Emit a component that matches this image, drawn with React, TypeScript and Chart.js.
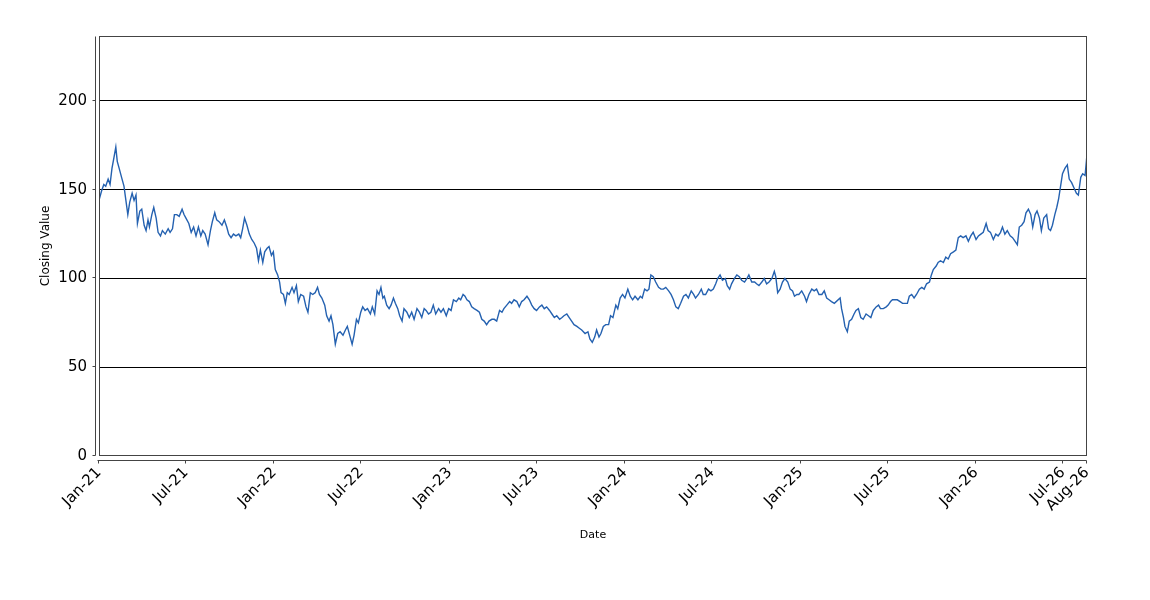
import React, { useEffect, useRef } from 'react';
import { Chart, registerables } from 'chart.js';

Chart.register(...registerables);

// days since 2021-01-01
const dayOffsets = [
  0, 5, 10, 14, 19, 23, 27, 31, 35, 38, 42, 48, 52, 55, 60, 64, 69, 73, 77, 80,
  85, 89, 94, 98, 102, 105, 110, 114, 119, 123, 128, 132, 138, 144, 148, 153, 157, 162, 167, 173,
  177, 181, 187, 192, 197, 202, 207, 212, 216, 221, 227, 232, 236, 241, 245, 250, 256, 261, 266, 270,
  275, 280, 285, 291, 295, 299, 303, 308, 313, 318, 323, 328, 332, 336, 341, 345, 350, 354, 359, 363,
  367, 372, 376, 379, 384, 388, 392, 396, 402, 406, 411, 415, 420, 426, 431, 435, 440, 445, 450, 455,
  459, 464, 470, 474, 479, 483, 487, 492, 497,
  502, 508, 513, 517, 523, 527, 531, 536, 540, 545, 549, 554, 559, 565, 569, 574, 579, 583, 587, 591,
  594, 599, 604, 608, 613, 617, 622, 626, 631, 635, 641, 646, 651, 656, 662, 667, 672, 677, 681, 686,
  691, 696, 701, 707, 712, 717, 723, 728, 733, 738, 744, 749, 753, 758, 762, 766, 771, 776, 781, 787,
  792, 797, 802, 807, 812, 818, 823, 828, 834, 839, 843, 849, 855, 859, 864, 870, 875, 880, 885, 891,
  896, 901, 906, 911, 917, 922, 927, 932, 938, 943, 948, 953, 959, 964, 968, 974, 979, 984, 989, 995,
  1000, 1005,
  1012, 1018, 1022, 1027, 1032, 1036, 1041, 1045, 1050, 1055, 1061, 1065, 1070, 1076, 1080, 1085, 1090, 1095, 1101, 1106,
  1111, 1116, 1122, 1127, 1131, 1136, 1141, 1145, 1149, 1154, 1159, 1165, 1170, 1175, 1180, 1186, 1191, 1196, 1201, 1206,
  1211, 1217, 1222, 1227, 1233, 1238, 1242, 1248, 1254, 1258, 1263, 1269, 1274, 1279, 1284, 1288, 1293, 1298, 1304, 1308,
  1313, 1317, 1323, 1328, 1333, 1338, 1344, 1349, 1353, 1359, 1365, 1369, 1374, 1380, 1385, 1390, 1395, 1401, 1406, 1409,
  1413, 1418, 1423, 1428, 1434, 1439, 1444, 1448, 1453, 1457, 1463, 1469, 1473, 1478, 1484, 1489, 1494, 1499, 1505, 1510,
  1515, 1520, 1525, 1531,
  1543, 1546, 1550, 1553, 1558, 1562, 1567, 1572, 1576, 1581, 1586, 1591, 1597, 1602, 1607, 1612, 1618, 1623, 1627, 1633,
  1639, 1643, 1648, 1652, 1657, 1662, 1668, 1673, 1678, 1683, 1687, 1692, 1697, 1702, 1708, 1713, 1718, 1723, 1729, 1733,
  1737, 1743, 1747, 1752, 1758, 1763, 1768, 1773, 1779, 1784, 1789, 1794, 1799, 1805, 1810, 1815, 1820, 1826, 1831, 1836,
  1841, 1847, 1851, 1856, 1862, 1867, 1872, 1877, 1881, 1886, 1891, 1897, 1902, 1907, 1912, 1916, 1921, 1926, 1930, 1935,
  1940, 1944, 1949, 1953, 1958, 1962, 1967, 1973, 1977, 1981, 1985, 1990, 1994, 1998, 2002, 2006, 2011, 2016, 2020, 2025,
  2030, 2035, 2039, 2044, 2048, 2053, 2057,
];

const closingValues = [
  144, 149, 153, 152, 156, 153, 162, 168, 174, 166, 162, 156, 152, 146, 136, 143, 148, 144, 147, 131,
  138, 139, 130, 127, 133, 129, 136, 140, 134, 126, 124, 127, 125, 128, 126, 128, 136, 136, 135, 139,
  136, 134, 131, 126, 129, 124, 129, 124, 127, 125, 119, 127, 132, 137, 133, 132, 130, 133, 129, 125,
  123, 125, 124, 125, 123, 128, 134, 130, 125, 122, 120, 117, 110, 116, 109, 115, 117, 118, 113, 115,
  105, 102, 98, 92, 91, 86, 92, 91, 95, 92, 96, 87, 91, 90, 84, 81, 92, 91, 92, 95,
  91, 89, 85, 79, 76, 79, 74, 63, 69,
  70, 68, 71, 73, 67, 63, 68, 77, 75, 81, 84, 82, 83, 80, 84, 80, 93, 91, 95, 89,
  90, 85, 83, 85, 89, 86, 83, 79, 76, 83, 81, 78, 81, 77, 83, 81, 78, 83, 82, 80,
  81, 85, 80, 83, 81, 83, 79, 83, 82, 88, 87, 89, 88, 91, 90, 88, 87, 84, 83, 82,
  81, 77, 76, 74, 76, 77, 77, 76, 82, 81, 83, 85, 87, 86, 88, 87, 84, 87, 88, 90,
  88, 85, 83, 82, 84, 85, 83, 84, 82, 80, 78, 79, 77, 78, 79, 80, 78, 76, 74, 73,
  72, 71,
  69, 70, 66, 64, 67, 71, 67, 69, 73, 74, 74, 79, 78, 85, 83, 89, 91, 89, 94, 90,
  88, 90, 88, 90, 89, 94, 93, 94, 102, 101, 98, 95, 94, 94, 95, 93, 91, 88, 84, 83,
  86, 90, 91, 89, 93, 91, 89, 91, 94, 91, 91, 94, 93, 94, 97, 100, 102, 99, 100, 96,
  94, 97, 100, 102, 101, 99, 98, 100, 102, 98, 98, 97, 96, 98, 100, 97, 98, 100, 104, 101,
  92, 94, 98, 100, 98, 94, 93, 90, 91, 91, 93, 90, 87, 91, 94, 93, 94, 91, 91, 93,
  89, 88, 87, 86,
  89, 83, 78, 73, 70, 76, 77, 80, 82, 83, 78, 77, 80, 79, 78, 82, 84, 85, 83, 83,
  84, 85, 87, 88, 88, 88, 87, 86, 86, 86, 90, 91, 89, 91, 94, 95, 94, 97, 98, 102,
  105, 107, 109, 110, 109, 112, 111, 114, 115, 116, 123, 124, 123, 124, 121, 124, 126, 122, 124, 125,
  126, 131, 127, 126, 122, 125, 124, 126, 129, 125, 127, 124, 123, 121, 119, 129, 130, 132, 137, 139,
  136, 129, 136, 138, 134, 127, 134, 136, 128, 127, 130, 136, 140, 145, 152, 159, 162, 164, 156, 154,
  151, 148, 147, 157, 159, 158, 170,
];

const xTickDays = [0, 181, 365, 546, 730, 911, 1095, 1277, 1461, 1642, 1826, 2007, 2057];
const xTickLabels = [
  'Jan-21', 'Jul-21', 'Jan-22', 'Jul-22', 'Jan-23', 'Jul-23', 'Jan-24',
  'Jul-24', 'Jan-25', 'Jul-25', 'Jan-26', 'Jul-26', 'Aug-26',
];
const yTickValues = [0, 50, 100, 150, 200];
const yMax = 236.6;

const FONT = 'DejaVu Sans';

// plot outline plus the detached axis lines and their little tick marks
const framePlugin = {
  id: 'frame',
  afterDraw(chart: any) {
    const { ctx, chartArea: a, scales } = chart;
    const L = Math.round(a.left) + 0.5;
    const R = Math.round(a.right) - 0.5;
    const T = Math.round(a.top) + 0.5;
    const B = Math.round(a.bottom) - 0.5;
    ctx.save();
    ctx.lineWidth = 1;
    ctx.strokeStyle = '#444';
    ctx.strokeRect(L, T, R - L, B - T);

    const ax = L - 4;
    ctx.beginPath();
    ctx.moveTo(ax, T);
    ctx.lineTo(ax, B);
    yTickValues.forEach((v) => {
      const py = Math.round(scales.y.getPixelForValue(v)) - 0.5;
      ctx.moveTo(ax - 3, py);
      ctx.lineTo(ax, py);
    });
    const ay = B + 5;
    ctx.moveTo(L - 2, ay);
    ctx.lineTo(R, ay);
    xTickDays.forEach((d) => {
      const px = Math.round(scales.x.getPixelForValue(d)) - 0.5;
      ctx.moveTo(px, ay);
      ctx.lineTo(px, ay + 3);
    });
    ctx.stroke();
    ctx.restore();
  },
};

const App = () => {
  const canvasRef = useRef<HTMLCanvasElement>(null);

  useEffect(() => {
    if (!canvasRef.current) return;
    const points = dayOffsets.map((d, i) => ({ x: d, y: closingValues[i] }));

    const chart = new Chart(canvasRef.current, {
      type: 'line',
      data: {
        datasets: [{
          label: 'Closing Value',
          data: points,
          borderColor: '#2461b0',
          borderWidth: 1.4,
          pointRadius: 0,
          fill: false,
          tension: 0,
        }],
      },
      options: {
        responsive: false,
        animation: false,
        layout: { padding: { top: 36, right: 63, left: 0, bottom: 0 } },
        plugins: {
          legend: { display: false },
          tooltip: { enabled: false },
        },
        scales: {
          x: {
            type: 'linear',
            min: 0,
            max: 2057,
            afterBuildTicks: (s: any) => { s.ticks = xTickDays.map((v) => ({ value: v })); },
            afterFit: (s: any) => { s.height = 144; },
            grid: { display: false, drawTicks: false },
            border: { display: false },
            ticks: {
              autoSkip: false,
              minRotation: 45,
              maxRotation: 45,
              padding: 8,
              color: '#000',
              font: { family: FONT, size: 15 },
              callback: (v: any) => xTickLabels[xTickDays.indexOf(Number(v))],
            },
            title: {
              display: true,
              text: 'Date',
              color: '#000',
              font: { family: FONT, size: 11 },
              padding: { top: 0, bottom: 58 },
            },
          },
          y: {
            min: 0,
            max: yMax,
            afterBuildTicks: (s: any) => { s.ticks = yTickValues.map((v) => ({ value: v })); },
            afterFit: (s: any) => { s.width = 99; },
            grid: {
              drawTicks: false,
              lineWidth: 1,
              color: (c: any) => (c.tick && c.tick.value === 0 ? 'rgba(0,0,0,0)' : '#000'),
            },
            border: { display: false },
            ticks: {
              padding: 12,
              color: '#000',
              font: { family: FONT, size: 15 },
            },
            title: {
              display: true,
              text: 'Closing Value',
              color: '#000',
              font: { family: FONT, size: 12 },
              padding: { top: 39, bottom: 0 },
            },
          },
        },
      },
      plugins: [framePlugin],
    });

    return () => chart.destroy();
  }, []);

  return (
    <div style={{ position: 'absolute', left: 0, top: 0, width: 1150, height: 600, background: '#fff' }}>
      <canvas ref={canvasRef} width={1150} height={600} />
    </div>
  );
};

export default App;
